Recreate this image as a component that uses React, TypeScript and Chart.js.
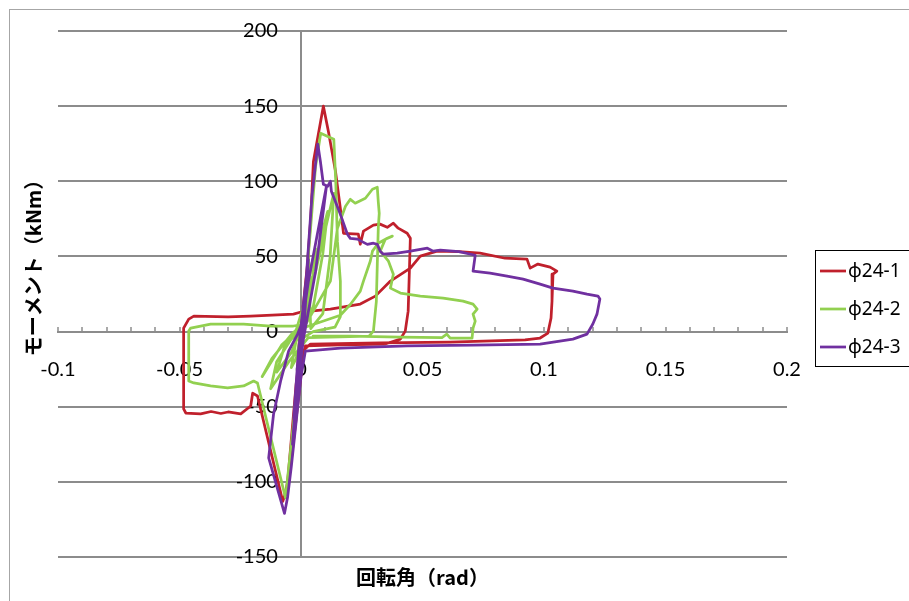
import React, { useEffect, useRef } from 'react';
import { Chart, registerables } from 'chart.js';

Chart.register(...registerables);

// ---- axis settings ----
const X_MIN = -0.1;
const X_MAX = 0.2;
const X_STEP = 0.01;
const X_LABEL_STEP = 0.05;
const Y_MIN = -150;
const Y_MAX = 200;
const Y_STEP = 50;
// rotation value at which the moment tick labels are anchored (just left of the zero axis)
const Y_LABEL_ANCHOR = -0.0095;

const X_TITLE = '回転角（rad）';
const Y_TITLE = 'モーメント（kNm）';

const SERIES_NAMES = ['φ24-1', 'φ24-2', 'φ24-3'];
const SERIES_COLORS = ['#C0202C', '#92D050', '#7030A0'];

// ---- data: [rotation (rad), moment (kNm)] ----
const PHI24_1: [number, number][] = [
  [0, 0], [0.0015, 22], [0.0008, 3], [-0.001, -18], [-0.0004, -3], [0.003, 50], [0.0018, 12], [-0.002, -42], [-0.0008, -8],
  [0.002, 30], [0.004, 75], [0.0051, 113], [0.0092, 150],
  [0.0113, 133], [0.0142, 106.6], [0.0162, 82], [0.0175, 65.4], [0.0236, 64.8], [0.0244, 58.1], [0.0257, 66.8], [0.0298, 70.8],
  [0.0325, 71.5], [0.0355, 69.4], [0.038, 72.1], [0.04, 68.8], [0.0437, 65.4], [0.045, 62.1],
  [0.0446, 40.2], [0.0441, 13.6], [0.0429, 0.3], [0.0409, -5], [0.0347, -8.3], [0.0162, -8.9], [0.0018, -9.6],
  [0.0003, -25], [-0.002, -58], [-0.0045, -92], [-0.0065, -108], [-0.0075, -113],
  [-0.0179, -42.9], [-0.0199, -41], [-0.0207, -49.5], [-0.0248, -54.8], [-0.03, -53.5], [-0.033, -54.5], [-0.037, -53.2],
  [-0.0413, -54.8], [-0.0474, -54.2], [-0.0483, -51.5], [-0.0483, -19.6], [-0.0483, 2.3], [-0.0462, 8.3], [-0.0441, 10.3],
  [-0.03, 9.8], [-0.0207, 10.3], [-0.0031, 11.6], [0, 13], [0.0121, 15], [0.0244, 18.3], [0.0306, 23.6], [0.0368, 33.6],
  [0.045, 42.2], [0.0491, 50.2], [0.056, 53.5], [0.065, 53.2], [0.0737, 52.2], [0.084, 48.8], [0.093, 48.2], [0.0943, 42.2],
  [0.0975, 44.9], [0.1025, 42.9], [0.1053, 40.2], [0.1037, 38.2], [0.1033, 20.3], [0.1029, 9], [0.1016, -1], [0.0984, -4.3],
  [0.0922, -5.6], [0.0614, -7], [0.0327, -7.6], [0.0039, -8.3], [0.0006, -13],
  [-0.002, -50], [-0.0045, -90], [-0.0055, -100], [-0.002, -35], [0, -8],
];

const PHI24_2: [number, number][] = [
  [0, 0], [0.002, 22], [0.0008, 4], [-0.002, -18], [-0.004, -24], [-0.002, -6], [0, 2], [0.004, 42], [0.006, 55], [0.004, 24],
  [0.001, 5], [-0.004, -14], [-0.01, -27], [-0.007, -11], [-0.002, 1], [0.005, 38], [0.009, 68], [0.011, 80], [0.009, 52],
  [0.005, 16], [0.001, 4], [-0.008, -9], [-0.016, -30], [-0.012, -18], [-0.004, -2], [0, 4],
  [0.006, 40], [0.011, 75], [0.0135, 92], [0.012, 50], [0.009, 12], [0.004, 2],
  [0.003, 50], [0.006, 110], [0.0081, 132], [0.0135, 127.9], [0.0143, 100], [0.015, 60], [0.0162, 33.6], [0.0162, 10],
  [0.014, 3], [0.005, 0], [0, -5],
  [-0.003, -60], [-0.0064, -110.6], [-0.0179, -34.2], [-0.0195, -32.9], [-0.0236, -36.2], [-0.0302, -37.5], [-0.0372, -36.2],
  [-0.0441, -34.2], [-0.0462, -32.9], [-0.0462, 0.3], [-0.0454, 2.3], [-0.0372, 5], [-0.0236, 5], [-0.0125, 3.7],
  [-0.0031, 3.7], [0.002, 5],
  [0.0121, 33.6], [0.015, 68.8], [0.0183, 83.4], [0.0203, 88], [0.0223, 85.4], [0.0265, 88.7], [0.0294, 94.7], [0.0314, 96],
  [0.0318, 86.4], [0.0322, 78.7], [0.0318, 68.8], [0.0314, 45], [0.031, 20], [0.0298, 0.3], [0.028, -3], [0.016, -3.5],
  [0.003, -4],
  [-0.005, -20], [-0.0125, -38], [-0.01, -20], [-0.004, -5], [0.002, 3],
  [0.0162, 10.9], [0.0203, 18], [0.0244, 26.9], [0.0257, 33.6], [0.0285, 46.8], [0.0294, 53.5], [0.0318, 58.8],
  [0.0355, 62.1], [0.0376, 63.5], [0.0347, 61.5], [0.0326, 53.5], [0.036, 46.8], [0.038, 38.2], [0.0368, 28.9],
  [0.0409, 25.6], [0.0491, 23.6], [0.0585, 22.3], [0.0667, 20.3], [0.0708, 18.3], [0.0725, 15], [0.0708, 11.6],
  [0.0717, 7], [0.0708, 2.3], [0.0704, -4.3], [0.0614, -4.3], [0.06, -1.7], [0.058, -4], [0.0409, -3.7], [0.0203, -3],
  [0.005, -3],
];

const PHI24_3: [number, number][] = [
  [0, 0], [0.0018, 28], [0.0008, 4], [-0.0015, -28], [-0.0005, -4], [0.003, 48], [0.0015, 10], [-0.003, -58], [-0.001, -12],
  [0.003, 33], [0.0105, 97], [0.006, 40], [0.001, -5], [-0.002, -45], [-0.0035, -75], [-0.001, -20], [0.0015, 20],
  [0.0045, 90], [0.0069, 124.8],
  [0.008, 113], [0.0092, 98], [0.011, 96.7], [0.0121, 100], [0.0125, 93.3], [0.0162, 78], [0.0191, 64.8], [0.0203, 62],
  [0.0232, 61.5], [0.0273, 58], [0.0298, 58.8], [0.0314, 58], [0.0326, 53.5], [0.0339, 51.5], [0.0396, 52.2], [0.045, 53.5],
  [0.052, 55.5], [0.0544, 53.5], [0.0573, 54.2], [0.065, 53.2], [0.0717, 50.8], [0.0708, 40.2], [0.0778, 38.9],
  [0.0848, 36.9], [0.0914, 34.9], [0.0984, 31.6], [0.1037, 28.9], [0.1119, 26.9], [0.1177, 24.9], [0.1222, 23.6],
  [0.123, 21.6], [0.1218, 11.6], [0.1201, 5], [0.1177, -1.7], [0.1119, -5], [0.0984, -8.3], [0.0708, -9], [0.0437, -9.6],
  [0.0162, -11], [0.0018, -13],
  [0, -30], [-0.002, -60], [-0.004, -90], [-0.0055, -110], [-0.0068, -121],
  [-0.0133, -84], [-0.0113, -55], [-0.0084, -33], [-0.0051, -13], [-0.0014, -1.7], [0.001, 8],
];

const SERIES_DATA = [PHI24_1, PHI24_2, PHI24_3];

const GRID_COLOR = '#8c8c8c';
const LABEL_FONT = 'Lato';
const LEGEND_FONT = '"Noto Sans"';
const TITLE_FONT = '"Noto Sans CJK JP"';

const decorPlugin = {
  id: 'decor',
  beforeDraw(chart: any) {
    const ctx = chart.ctx as CanvasRenderingContext2D;
    ctx.save();
    ctx.fillStyle = '#ffffff';
    ctx.fillRect(0, 0, chart.width, chart.height);
    ctx.strokeStyle = '#a6a6a6';
    ctx.lineWidth = 1;
    ctx.strokeRect(9.5, 9.5, 1200, 1200);
    ctx.restore();
  },
  afterDraw(chart: any) {
    const ctx = chart.ctx as CanvasRenderingContext2D;
    const area = chart.chartArea;
    ctx.save();
    // legend
    ctx.strokeStyle = '#000000';
    ctx.lineWidth = 1;
    ctx.strokeRect(815.5, 250.5, 200, 116);
    ctx.font = `19px ${LEGEND_FONT}`;
    ctx.textAlign = 'left';
    ctx.textBaseline = 'middle';
    SERIES_NAMES.forEach((name, i) => {
      const y = 271 + i * 38;
      ctx.strokeStyle = SERIES_COLORS[i];
      ctx.lineWidth = 2.75;
      ctx.beginPath();
      ctx.moveTo(820, y);
      ctx.lineTo(846, y);
      ctx.stroke();
      ctx.fillStyle = '#000000';
      ctx.fillText(name, 848, y + 1);
    });
    // axis titles
    ctx.font = `bold 20px ${TITLE_FONT}`;
    ctx.fillStyle = '#000000';
    ctx.textAlign = 'center';
    ctx.textBaseline = 'middle';
    ctx.fillText(X_TITLE, (area.left + area.right) / 2, 577);
    ctx.translate(33, 263);
    ctx.rotate(-Math.PI / 2);
    ctx.fillText(Y_TITLE, 0, 0);
    ctx.restore();
  },
};

const isZero = (v: number) => Math.abs(v) < 1e-9;

export default function App() {
  const canvasRef = useRef<HTMLCanvasElement | null>(null);

  useEffect(() => {
    if (!canvasRef.current) return;
    const chart = new Chart(canvasRef.current, {
      type: 'scatter',
      data: {
        datasets: SERIES_DATA.map((pts, i) => ({
          label: SERIES_NAMES[i],
          data: pts.map(([x, y]) => ({ x, y })),
          showLine: true,
          borderColor: SERIES_COLORS[i],
          backgroundColor: SERIES_COLORS[i],
          borderWidth: 2.75,
          pointRadius: 0,
          pointHoverRadius: 0,
          borderJoinStyle: 'round' as const,
          borderCapStyle: 'round' as const,
          tension: 0,
          order: 3 - i,
        })),
      },
      options: {
        animation: false,
        responsive: false,
        devicePixelRatio: 1,
        layout: { padding: { left: 58, top: 31, right: 122, bottom: 44 } },
        plugins: { legend: { display: false }, tooltip: { enabled: false } },
        events: [],
        scales: {
          x: {
            type: 'linear',
            min: X_MIN,
            max: X_MAX,
            position: { y: 0 } as any,
            grid: {
              drawOnChartArea: true,
              drawTicks: true,
              tickLength: -6,
              color: (c: any) => (c.tick && isZero(c.tick.value) ? GRID_COLOR : 'rgba(0,0,0,0)'),
              lineWidth: 2,
              tickColor: GRID_COLOR,
              tickWidth: 1.5,
            },
            border: { display: true, color: GRID_COLOR, width: 2 },
            ticks: {
              stepSize: X_STEP,
              autoSkip: false,
              maxRotation: 0,
              minRotation: 0,
              padding: 32,
              color: '#000000',
              font: { family: LABEL_FONT, size: 20 },
              callback: (value: any) => {
                const v = Number(value);
                const k = Math.round(v / X_LABEL_STEP);
                if (Math.abs(k * X_LABEL_STEP - v) > 1e-9) return '';
                return String(Math.round(k * X_LABEL_STEP * 100) / 100);
              },
            },
          },
          y: {
            type: 'linear',
            min: Y_MIN,
            max: Y_MAX,
            position: { x: Y_LABEL_ANCHOR } as any,
            grid: {
              drawOnChartArea: true,
              drawTicks: false,
              color: GRID_COLOR,
              lineWidth: 2,
            },
            border: { display: false },
            ticks: {
              stepSize: Y_STEP,
              padding: 0,
              color: '#000000',
              font: { family: LABEL_FONT, size: 20 },
              callback: (value: any) => String(Math.round(Number(value))),
            },
          },
        },
      },
      plugins: [decorPlugin],
    });
    return () => chart.destroy();
  }, []);

  return (
    <div style={{ position: 'absolute', left: 0, top: 0, width: 909, height: 601 }}>
      <canvas ref={canvasRef} width={909} height={601} style={{ width: 909, height: 601, display: 'block' }} />
    </div>
  );
}
